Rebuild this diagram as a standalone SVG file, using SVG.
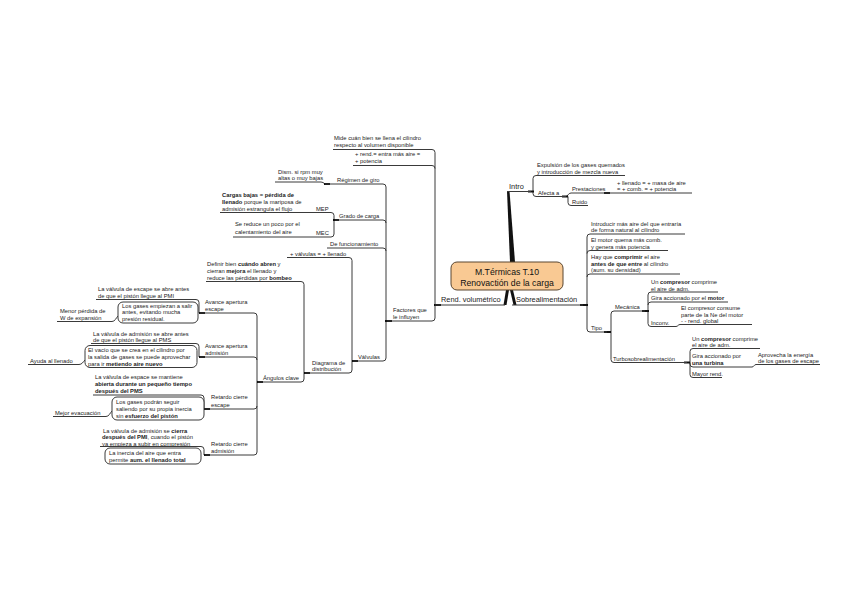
<svg xmlns="http://www.w3.org/2000/svg" width="848" height="599" viewBox="0 0 848 599">
<style>
text{font-family:"Liberation Sans",Arial,sans-serif;font-size:5.8px;fill:#222}
.m{font-size:7.4px}
.ct{font-size:8.7px;text-anchor:middle;fill:#111}
.b{font-weight:bold}
.u{stroke:#3a3a3a;stroke-width:1;fill:none}
.c{stroke:#3a3a3a;stroke-width:1;fill:none}
.j{stroke:#111;stroke-width:2.2;fill:none}
.w{fill:#111}
.box{fill:#fff;stroke:#3a3a3a;stroke-width:1}
</style>
<rect width="848" height="599" fill="#fff"/>
<g id="connectors">
<polygon class="w" points="507,191 509.5,191 515,262 510,262"/>
<polygon class="w" points="506,290 509,290 506.5,305 503.5,305"/>
<polygon class="w" points="510,290 513,290 516.5,305 513.5,305"/>
<path class="c" d="M435,305 V152.5 Q435,149.5 432,149.5 M435,168.5 Q435,165.5 432,165.5 M435,305 V318 Q435,321 432,321"/>
<path class="c" d="M386,321 V187 Q386,184 383,184 M386,223 Q386,220 383,220 M386,251 Q386,248 383,248 M386,321 V358 Q386,361 383,361"/>
<path class="c" d="M325,184 Q323,182 321,182"/>
<path class="c" d="M334,220 V215.5 Q334,212.5 331,212.5 M334,220 V234 Q334,237 331,237"/>
<path class="c" d="M352,361 V260.5 Q352,257.5 349,257.5 M352,361 V370 Q352,373 349,373"/>
<path class="c" d="M304,373 V284.5 Q304,281.5 301,281.5 M304,373 V379 Q304,382 301,382"/>
<path class="c" d="M257,382 V316 Q257,313 254,313 M257,360 Q257,357 254,357 M257,382 V452 Q257,455 254,455 M257,406 Q257,409 254,409"/>
<path class="c" d="M199,313 V302.5 Q199,299.5 196,299.5"/>
<path class="c" d="M112,321.5 C115,321.5 116,318 118,316"/>
<path class="c" d="M199,357 V346.5 Q199,343.5 196,343.5"/>
<path class="c" d="M79,364.5 C82,364.5 83,362 85,360"/>
<path class="c" d="M204,409 V398 Q204,395 201,395"/>
<path class="c" d="M106,416.5 C109,416.5 110,413 112,411"/>
<path class="c" d="M204,455 V449.5 Q204,446.5 201,446.5"/>
<path class="c" d="M533,191.5 V178.5 Q533,175.5 536,175.5 M533,191.5 V193.5 Q533,196.5 536,196.5"/>
<path class="c" d="M566,196.5 C568,196.5 568,193 571,193 M568,196.5 V202.5 Q568,205.5 571,205.5"/>
<path class="c" d="M587,305 V237 Q587,234 590,234 M587,253.5 Q587,250.5 590,250.5 M587,277 Q587,274 590,274 M587,305 V329 Q587,332 590,332"/>
<path class="c" d="M611,332 V314 Q611,311 614,311 M611,332 V359.5 Q611,362.5 614,362.5"/>
<path class="c" d="M648,311 V295 Q648,292 651,292 M648,305 Q648,302 651,302 M648,311 V323.5 Q648,326.5 651,326.5"/>
<path class="c" d="M676,326.5 C678,326.5 678,324.5 680,324.5"/>
<path class="c" d="M690,362.5 V351.5 Q690,348.5 693,348.5 M690,362.5 V374.5 Q690,377.5 693,377.5 M690,362.5 V364 Q690,367 693,367"/>
<path class="c" d="M752,367 C754,367 754,364.5 756,364.5"/>
<path class="j" d="M434,305 H441 M385,321 H392 M324,184 H330 M333,220 H339 M352,361 H358 M304,373 H310 M257,382 H263 M199,313 H205 M199,357 H205 M204,409 H210 M204,455 H210 M580,305 H588 M528,191.5 H534 M562,196.5 H568 M604,193 H610 M604,332 H611 M642,311 H649 M684,362.5 H690"/>
</g>
<g id="center">
<rect x="451" y="262" width="112" height="28" rx="6" fill="#F9C993" stroke="#5a4630" stroke-width="1"/>
<text class="ct" x="507" y="275">M.Térmicas T.10</text>
<text class="ct" x="507" y="286">Renovactión de la carga</text>
</g>
<g id="rend">
<text class="m" x="441" y="302">Rend. volumétrico</text>
<path class="u" d="M435,305 H505"/>
</g>
<g id="mide">
<text x="334" y="140">Mide cuán bien se llena el cilindro</text>
<text x="334" y="147">respecto al volumen disponible</text>
<path class="u" d="M333,149.5 H432"/>
</g>
<g id="mas-rend">
<text x="355" y="156">+ rend.= entra más aire =</text>
<text x="355" y="163">+ potencia</text>
<path class="u" d="M353,165.5 H432"/>
</g>
<g id="factores">
<text x="393" y="312">Factores que</text>
<text x="393" y="319">le influyen</text>
<path class="u" d="M387,321 H432"/>
</g>
<g id="regimen">
<text x="337" y="181.5">Régimen de giro</text>
<path class="u" d="M325,184 H383"/>
</g>
<g id="dism">
<text x="278" y="173.5">Dism. si rpm muy</text>
<text x="278" y="180">altas o muy bajas</text>
<path class="u" d="M275,182 H321"/>
</g>
<g id="grado">
<text x="339" y="217.5">Grado de carga</text>
<path class="u" d="M335,220 H383"/>
</g>
<g id="mep">
<text x="316" y="210.5">MEP</text>
<path class="u" d="M307,212.5 H331"/>
</g>
<g id="cargas">
<text x="222" y="197" class="b">Cargas bajas = pérdida de</text>
<text x="222" y="204"><tspan class="b">llenado</tspan> porque la mariposa de</text>
<text x="222" y="211">admisión estrangula el flujo</text>
<path class="u" d="M220,212.5 H307"/>
</g>
<g id="mec">
<text x="316" y="234.5">MEC</text>
<path class="u" d="M305,237 H331"/>
</g>
<g id="se-reduce">
<text x="235" y="226">Se reduce un poco por el</text>
<text x="235" y="233.5">calentamiento del aire</text>
<path class="u" d="M233,237 H305"/>
</g>
<g id="funcionamiento">
<text x="330" y="245.5">De funcionamiento</text>
<path class="u" d="M327,248 H383"/>
</g>
<g id="valvulas">
<text x="358" y="359">Válvulas</text>
<path class="u" d="M353,361 H383"/>
</g>
<g id="mas-valvulas">
<text x="290" y="255.5">+ válvulas = + llenado</text>
<path class="u" d="M287,257.5 H349"/>
</g>
<g id="diagrama">
<text x="312" y="365">Diagrama de</text>
<text x="312" y="371">distribución</text>
<path class="u" d="M305,373 H349"/>
</g>
<g id="definir">
<text x="207" y="266">Definir bien <tspan class="b">cuándo abren</tspan> y</text>
<text x="207" y="273">cierran <tspan class="b">mejora</tspan> el llenado y</text>
<text x="207" y="279.5">reduce las pérdidas por <tspan class="b">bombeo</tspan></text>
<path class="u" d="M206,281.5 H301"/>
</g>
<g id="angulos">
<text x="263" y="380">Ángulos clave</text>
<path class="u" d="M258,382 H301"/>
</g>
<g id="aae">
<text x="205" y="304">Avance apertura</text>
<text x="205" y="311">escape</text>
<path class="u" d="M200,313 H254"/>
</g>
<g id="lve1">
<text x="98" y="291">La válvula de escape se abre antes</text>
<text x="98" y="298">de que el pistón llegue al PMI</text>
<path class="u" d="M96,299.5 H196"/>
</g>
<g id="box1">
<rect class="box" x="118" y="302" width="80" height="21" rx="5"/>
<text x="122" y="307.5">Los gases empiezan a salir</text>
<text x="122" y="314">antes, evitando mucha</text>
<text x="122" y="320.5">presión residual.</text>
</g>
<g id="menor">
<text x="60" y="312.5">Menor pérdida de</text>
<text x="60" y="319.5">W de expansión</text>
<path class="u" d="M57,321.5 H112"/>
</g>
<g id="aaa">
<text x="205" y="348">Avance apertura</text>
<text x="205" y="355">admisión</text>
<path class="u" d="M200,357 H254"/>
</g>
<g id="lva">
<text x="93" y="335.5">La válvula de admisión se abre antes</text>
<text x="93" y="342">de que el pistón llegue al PMS</text>
<path class="u" d="M91,343.5 H196"/>
</g>
<g id="box2">
<rect class="box" x="85" y="345.5" width="112" height="22" rx="5"/>
<text x="88" y="351.5">El vacío que se crea en el cilindro por</text>
<text x="88" y="358.5">la salida de gases se puede aprovechar</text>
<text x="88" y="365.5">para ir <tspan class="b">metiendo aire nuevo</tspan></text>
</g>
<g id="ayuda">
<text x="30" y="362.5">Ayuda al llenado</text>
<path class="u" d="M28,364.5 H79"/>
</g>
<g id="rce">
<text x="211" y="399">Retardo cierre</text>
<text x="211" y="406.5">escape</text>
<path class="u" d="M205,409 H254"/>
</g>
<g id="lvesp">
<text x="95" y="379">La válvula de espace se mantiene</text>
<text x="95" y="386" class="b">abierta durante un pequeño tiempo</text>
<text x="95" y="393" class="b">después del PMS</text>
<path class="u" d="M93,395 H201"/>
</g>
<g id="box3">
<rect class="box" x="112" y="397" width="92" height="23" rx="5"/>
<text x="116" y="404">Los gases podrán seguir</text>
<text x="116" y="411">saliendo por su propia inercia</text>
<text x="116" y="418">sin <tspan class="b">esfuerzo del pistón</tspan></text>
</g>
<g id="mejor">
<text x="55" y="414.5">Mejor evacuación</text>
<path class="u" d="M53,416.5 H106"/>
</g>
<g id="rca">
<text x="211" y="446">Retardo cierre</text>
<text x="211" y="453">admisión</text>
<path class="u" d="M205,455 H254"/>
</g>
<g id="lvad">
<text x="103" y="432.5">La válvula de admisión se <tspan class="b">cierra</tspan></text>
<text x="102" y="439"><tspan class="b">después del PMI</tspan>, cuando el pistón</text>
<text x="102" y="445.5">ya empieza a subir en compresión</text>
<path class="u" d="M100,446.5 H201"/>
</g>
<g id="box4">
<rect class="box" x="105" y="448" width="96" height="16" rx="5"/>
<text x="109" y="454.5">La inercia del aire que entra</text>
<text x="109" y="461.5">permite <tspan class="b">aum. el llenado total</tspan></text>
</g>
<g id="intro">
<text class="m" x="509" y="189">Intro</text>
<path class="u" d="M507,191.5 H531"/>
</g>
<g id="expulsion">
<text x="537" y="167">Expulsión de los gases quemados</text>
<text x="537" y="174">y introducción de mezcla nueva</text>
<path class="u" d="M536,175.5 H625"/>
</g>
<g id="afecta">
<text x="538" y="194.5">Afecta a</text>
<path class="u" d="M536,196.5 H566"/>
</g>
<g id="prestaciones">
<text x="572" y="191">Prestaciones</text>
<path class="u" d="M571,193 H609"/>
</g>
<g id="llenado">
<text x="617" y="184.5">+ llenado = + masa de aire</text>
<text x="617" y="191">= + comb. = + potencia</text>
<path class="u" d="M609,193 H692"/>
</g>
<g id="ruido">
<text x="572" y="203.5">Ruido</text>
<path class="u" d="M571,205.5 H588"/>
</g>
<g id="sobre">
<text class="m" x="516" y="302">Sobrealimentación</text>
<path class="u" d="M512,305 H583"/>
</g>
<g id="introducir">
<text x="591" y="225.5">Introducir más aire del que entraría</text>
<text x="591" y="232">de forma natural al cilindro</text>
<path class="u" d="M590,234 H685"/>
</g>
<g id="motor">
<text x="591" y="242">El motor quema más comb.</text>
<text x="591" y="248.5">y genera más potencia</text>
<path class="u" d="M590,250.5 H668"/>
</g>
<g id="hay">
<text x="591" y="259">Hay que <tspan class="b">comprimir</tspan> el aire</text>
<text x="591" y="265.5"><tspan class="b">antes de que entre</tspan> al cilindro</text>
<text x="591" y="272">(aum. su densidad)</text>
<path class="u" d="M590,274 H680"/>
</g>
<g id="tipo">
<text x="591" y="330">Tipo</text>
<path class="u" d="M590,332 H607"/>
</g>
<g id="mecanica">
<text x="615" y="309">Mecánica</text>
<path class="u" d="M614,311 H645"/>
</g>
<g id="uc1">
<text x="651" y="284">Un <tspan class="b">compresor</tspan> comprime</text>
<text x="651" y="290.5">el aire de adm.</text>
<path class="u" d="M651,292 H718"/>
</g>
<g id="gira1">
<text x="651" y="300">Gira accionado por el <tspan class="b">motor</tspan></text>
<path class="u" d="M651,302 H728"/>
</g>
<g id="inconv">
<text x="651" y="324.5">Inconv.</text>
<path class="u" d="M651,326.5 H676"/>
</g>
<g id="consume">
<text x="681" y="310">El compresor consume</text>
<text x="681" y="316.5">parte de la Ne del motor</text>
<text x="681" y="323">- - rend. global</text>
<path class="u" d="M680,324.5 H752"/>
</g>
<g id="turbo">
<text x="613" y="360.5">Turbosobrealimentación</text>
<path class="u" d="M614,362.5 H687"/>
</g>
<g id="uc2">
<text x="692" y="340.5">Un <tspan class="b">compresor</tspan> comprime</text>
<text x="692" y="347">el aire de adm.</text>
<path class="u" d="M693,348.5 H760"/>
</g>
<g id="gira2">
<text x="692" y="358">Gira accionado por</text>
<text x="692" y="365" class="b">una turbina</text>
<path class="u" d="M693,367 H752"/>
</g>
<g id="aprovecha">
<text x="758" y="356.5">Aprovecha la energía</text>
<text x="758" y="362.5">de los gases de escape</text>
<path class="u" d="M756,364.5 H820"/>
</g>
<g id="mayor">
<text x="692" y="375.5">Mayor rend.</text>
<path class="u" d="M693,377.5 H722"/>
</g>
</svg>
